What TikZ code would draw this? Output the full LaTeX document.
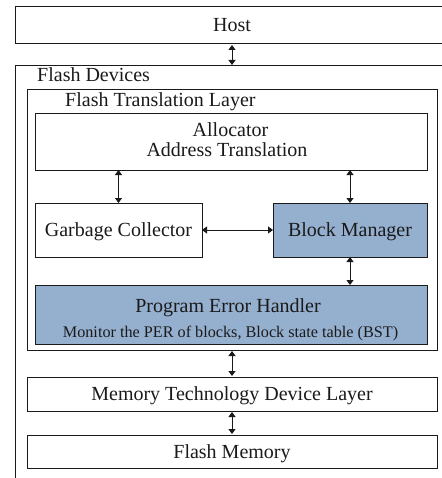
\documentclass[tikz,border=0pt]{standalone}
\usepackage{fontspec}
\setmainfont{Liberation Serif}
\usetikzlibrary{arrows.meta}
\definecolor{bmblue}{HTML}{95AFCF}
\definecolor{ink}{HTML}{1A1A1A}
\begin{document}
\begin{tikzpicture}[x=1bp,y=-1bp,
  box/.style={draw=ink, line width=0.9bp, inner sep=0pt, outer sep=0pt},
  txt/.style={font=\fontsize{20bp}{20bp}\selectfont, text=ink},
  onel/.style={box, txt, text height=13.2bp, text depth=0pt},
  lbl/.style={txt, inner sep=0pt},
  small/.style={font=\fontsize{16.2bp}{16.2bp}\selectfont, text=ink, inner sep=0pt},
  dar/.style={{Triangle[length=5bp,width=7bp]}-{Triangle[length=5bp,width=7bp]}, line width=0.9bp, draw=ink},
]
\useasboundingbox (0,0) rectangle (442,478);
\clip (0,0) rectangle (442,478);

% outer boxes
\node[onel, minimum width=434bp, minimum height=37bp] (host) at (232,24.5) {Host};
\node[box, minimum width=434bp, minimum height=425bp] (fd) at (232,277.5) {};
\node[lbl, anchor=base west] (fdl) at (37,82) {Flash Devices};
\node[box, minimum width=410bp, minimum height=261bp] (ftl) at (232,219.5) {};
\node[lbl, anchor=base west] (ftll) at (65,107) {Flash Translation Layer};

% FTL internals
\node[box, minimum width=392bp, minimum height=57bp] (alloc) at (231,141.5) {};
\node[lbl, anchor=base] (allocA) at (230.5,137) {Allocator};
\node[lbl, anchor=base] (allocB) at (227,157) {Address Translation};

\node[onel, minimum width=167bp, minimum height=54bp] (gc) at (118.5,230) {Garbage Collector};
\node[onel, fill=bmblue, minimum width=154bp, minimum height=54bp] (bm) at (350,230) {Block Manager};

\node[box, fill=bmblue, minimum width=392bp, minimum height=59bp] (peh) at (231,314.5) {};
\node[lbl, anchor=base] (pehA) at (228,312.7) {Program Error Handler};
\node[small, anchor=base] (pehB) at (230.5,337) {Monitor the PER of blocks, Block state table (BST)};

% lower layers
\node[onel, minimum width=410bp, minimum height=34bp] (mtd) at (232,394) {Memory Technology Device Layer};
\node[onel, minimum width=410bp, minimum height=33bp] (fm) at (232,451.5) {Flash Memory};

% connectors
\draw[dar, shorten <=2bp] (host.south -| ftl.north) -- (fd.north -| ftl.north);
\draw[dar] (alloc.south -| gc.north) -- (gc.north);
\draw[dar] (alloc.south -| bm.north) -- (bm.north);
\draw[dar] (gc.east) -- (bm.west);
\draw[dar] (bm.south) -- (peh.north -| bm.south);
\draw[dar, shorten <=1bp, shorten >=1bp] (ftl.south) -- (mtd.north);
\draw[dar, shorten <=1bp, shorten >=1bp] (mtd.south) -- (fm.north);
\end{tikzpicture}
\end{document}
